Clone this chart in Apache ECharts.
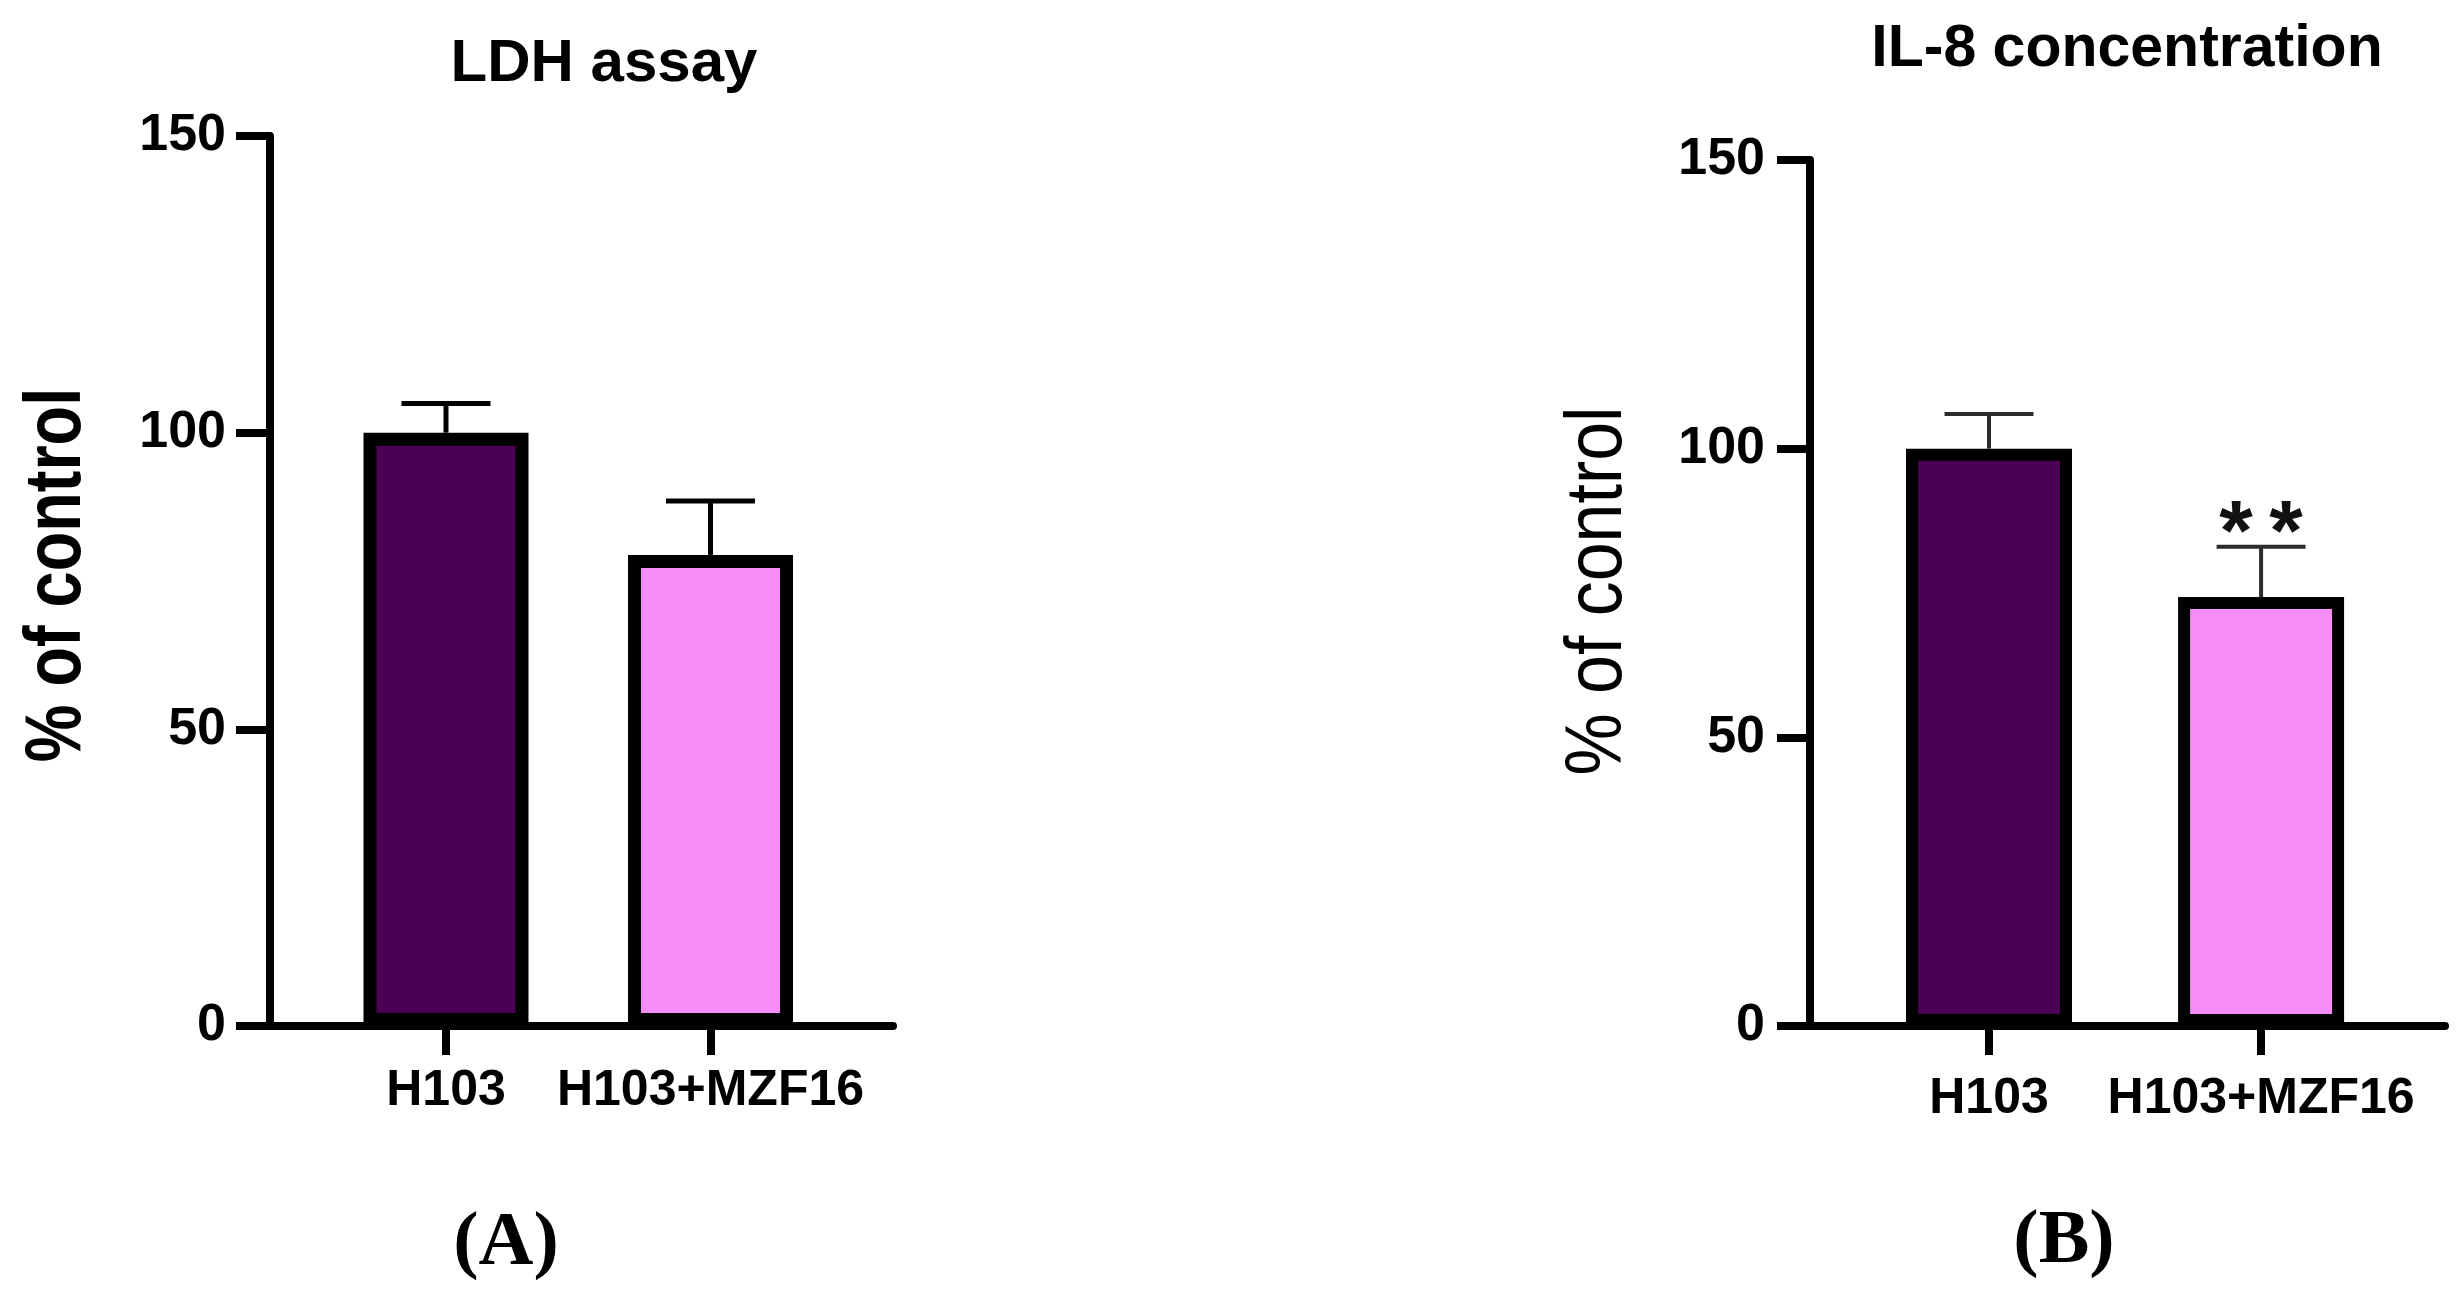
<!DOCTYPE html>
<html>
<head>
<meta charset="utf-8">
<script src="https://cdn.jsdelivr.net/npm/echarts@6/dist/echarts.min.js"></script>
<style>
  html, body { margin: 0; padding: 0; background: #fff; }
  #chart { width: 2462px; height: 1301px; }
</style>
</head>
<body>
<div id="chart"></div>
<script>
// groups (x categories)
const categories = ['H103', 'H103+MZF16'];
const barColors = ['#4B0055', '#F68CF8'];

// (A) LDH assay, % of control
const ldhMean = [100, 79.4];
const ldhSem = [4.9, 9.1];

// (B) IL-8 concentration, % of control
const il8Mean = [100, 74.3];
const il8Sem = [6.0, 8.7];
const il8Sig = ['', '**'];

const yTicks = [0, 50, 100, 150];

const SANS = '"Liberation Sans", Arial, sans-serif';
const SERIF = '"Liberation Serif", "Times New Roman", serif';

const chart = echarts.init(document.getElementById('chart'));

// x positions of the groups on the value axis: 1, 2
const barData = (means) =>
  categories.map((c, i) => ({
    value: [i + 1, means[i]],
    itemStyle: { color: barColors[i] },
  }));

const errData = (means, sem) =>
  categories.map((c, i) => [i + 1, means[i] + sem[i], means[i]]);

const makeErrRender = (color, width, capHalf) =>
  function (params, api) {
    const top = api.coord([api.value(0), api.value(1)]);
    const base = api.coord([api.value(0), api.value(2)]);
    return {
      type: 'group',
      children: [
        {
          type: 'line',
          shape: { x1: base[0], y1: base[1], x2: top[0], y2: top[1] },
          style: { stroke: color, lineWidth: width },
        },
        {
          type: 'line',
          shape: { x1: top[0] - capHalf, y1: top[1], x2: top[0] + capHalf, y2: top[1] },
          style: { stroke: color, lineWidth: width },
        },
      ],
    };
  };

const xAxisFor = (gridIndex, min, max, margin) => ({
  type: 'value',
  gridIndex: gridIndex,
  min: min,
  max: max,
  axisLine: { show: true, onZero: false, lineStyle: { color: '#000', width: 8 } },
  axisTick: { show: true, customValues: [1, 2], length: 29, lineStyle: { color: '#000', width: 8 } },
  axisLabel: {
    customValues: [1, 2],
    formatter: (v) => categories[Math.round(v) - 1] || '',
    color: '#000',
    fontFamily: SANS,
    fontWeight: 'bold',
    fontSize: 50,
    margin: margin,
  },
  splitLine: { show: false },
});

const yAxisFor = (gridIndex, tickLen, margin) => ({
  type: 'value',
  gridIndex: gridIndex,
  min: yTicks[0],
  max: yTicks[yTicks.length - 1],
  interval: 50,
  axisLine: { show: true, lineStyle: { color: '#000', width: 8 } },
  axisTick: { show: true, length: tickLen, lineStyle: { color: '#000', width: 8 } },
  axisLabel: {
    color: '#000',
    fontFamily: SANS,
    fontWeight: 'bold',
    fontSize: 52,
    margin: margin,
  },
  splitLine: { show: false },
});

const textEl = (text, x, y, font, extra) =>
  Object.assign(
    {
      type: 'text',
      x: x,
      y: y,
      style: {
        text: text,
        font: font,
        fill: '#000',
        align: 'center',
        verticalAlign: 'middle',
        textAlign: 'center',
        textVerticalAlign: 'middle',
      },
    },
    extra || {}
  );

const option = {
  animation: false,
  backgroundColor: '#fff',
  grid: [
    { left: 270, top: 136, width: 623, height: 890, outerBoundsMode: 'none' },
    { left: 1810, top: 160, width: 635, height: 866, outerBoundsMode: 'none' },
  ],
  xAxis: [xAxisFor(0, 0.3346, 2.69, 40), xAxisFor(1, 0.342, 2.676, 48)],
  yAxis: [yAxisFor(0, 34, 44), yAxisFor(1, 33, 45)],
  graphic: [
    textEl('LDH assay', 604, 64, 'bold 60px ' + SANS),
    textEl('IL-8 concentration', 2127, 50, 'bold 59px ' + SANS),
    textEl('% of control', 58, 575, 'bold 80px ' + SANS, { rotation: Math.PI / 2, scaleX: 0.81 }),
    textEl('% of control', 1599, 591, '80px ' + SANS, { rotation: Math.PI / 2, scaleX: 0.874 }),
    textEl('(A)', 506, 1244, 'bold 76px ' + SERIF),
    textEl('(B)', 2064, 1242, 'bold 76px ' + SERIF),
  ],
  series: [
    {
      type: 'bar',
      xAxisIndex: 0,
      yAxisIndex: 0,
      barWidth: 165,
      itemStyle: { borderColor: '#000', borderWidth: 13 },
      data: barData(ldhMean),
      z: 2,
    },
    {
      type: 'custom',
      xAxisIndex: 0,
      yAxisIndex: 0,
      renderItem: makeErrRender('#000', 5, 44.5),
      data: errData(ldhMean, ldhSem),
      z: 3,
    },
    {
      type: 'bar',
      xAxisIndex: 1,
      yAxisIndex: 1,
      barWidth: 166,
      itemStyle: { borderColor: '#000', borderWidth: 12 },
      data: barData(il8Mean),
      z: 2,
    },
    {
      type: 'custom',
      xAxisIndex: 1,
      yAxisIndex: 1,
      renderItem: makeErrRender('#2b2b2b', 4, 44.5),
      data: errData(il8Mean, il8Sem),
      z: 3,
    },
    {
      // significance stars above the error caps
      type: 'custom',
      xAxisIndex: 1,
      yAxisIndex: 1,
      renderItem: function (params, api) {
        const sig = il8Sig[params.dataIndex];
        if (!sig) return null;
        const p = api.coord([api.value(0), api.value(1)]);
        const stars = sig.split('');
        const gap = 50;
        return {
          type: 'group',
          children: stars.map((s, k) => ({
            type: 'text',
            x: p[0] + (k - (stars.length - 1) / 2) * gap,
            y: p[1] - 11,
            style: {
              text: s,
              font: 'bold 86px ' + SANS,
              fill: '#111',
              align: 'center',
              verticalAlign: 'middle',
              textAlign: 'center',
              textVerticalAlign: 'middle',
            },
          })),
        };
      },
      data: errData(il8Mean, il8Sem),
      z: 4,
    },
  ],
};

chart.setOption(option);
</script>
</body>
</html>
